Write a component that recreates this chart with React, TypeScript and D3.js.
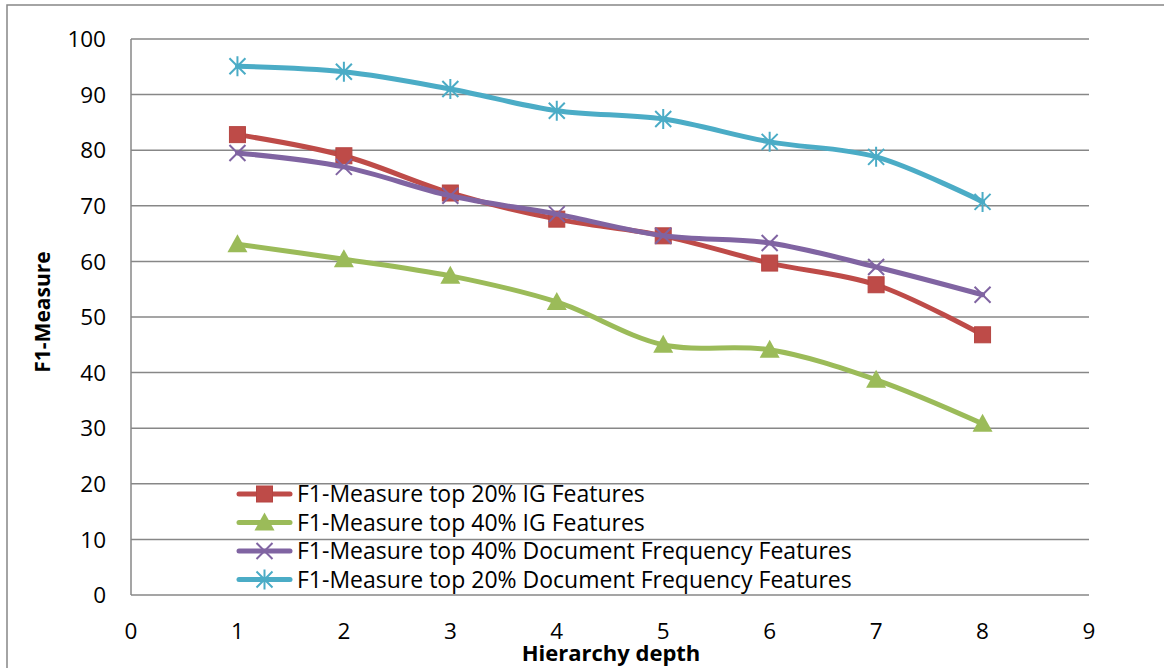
import React, { useEffect, useRef } from "react";
import * as d3 from "d3";

const depths = [1, 2, 3, 4, 5, 6, 7, 8];
const ig20 = [82.8, 79.0, 72.3, 67.6, 64.6, 59.7, 55.8, 46.8];
const ig40 = [63.1, 60.4, 57.4, 52.7, 45.0, 44.1, 38.7, 30.8];
const df40 = [79.5, 77.0, 71.8, 68.5, 64.6, 63.3, 59.0, 54.0];
const df20 = [95.1, 94.1, 91.0, 87.1, 85.6, 81.5, 78.8, 70.7];
const xTicks = [0, 1, 2, 3, 4, 5, 6, 7, 8, 9];
const yTicks = [0, 10, 20, 30, 40, 50, 60, 70, 80, 90, 100];

const series = [
  { name: "F1-Measure top 20% IG Features", values: ig20, color: "#BE4B48", marker: "square" },
  { name: "F1-Measure top 40% IG Features", values: ig40, color: "#9BBB59", marker: "triangle" },
  { name: "F1-Measure top 40% Document Frequency Features", values: df40, color: "#8064A2", marker: "x" },
  { name: "F1-Measure top 20% Document Frequency Features", values: df20, color: "#4BACC6", marker: "star" },
];

const font = "'Open Sans', sans-serif";

function drawMarker(g: any, type: string, color: string, cx: number, cy: number) {
  if (type === "square") {
    g.append("rect").attr("x", cx - 8).attr("y", cy - 8).attr("width", 16).attr("height", 16)
      .attr("fill", color).attr("stroke", "#B54542").attr("stroke-width", 1);
  } else if (type === "triangle") {
    g.append("path").attr("d", `M${cx},${cy - 10}L${cx + 10},${cy + 8}L${cx - 10},${cy + 8}Z`)
      .attr("fill", color);
  } else if (type === "x") {
    g.append("path").attr("d", `M${cx - 8},${cy - 8}L${cx + 8},${cy + 8}M${cx - 8},${cy + 8}L${cx + 8},${cy - 8}`)
      .attr("stroke", color).attr("stroke-width", 2).attr("fill", "none");
  } else {
    g.append("path").attr("d", `M${cx - 8},${cy - 8}L${cx + 8},${cy + 8}M${cx - 8},${cy + 8}L${cx + 8},${cy - 8}M${cx},${cy - 10}L${cx},${cy + 10}`)
      .attr("stroke", color).attr("stroke-width", 2).attr("fill", "none");
  }
}

export default function App() {
  const ref = useRef<SVGSVGElement>(null);

  useEffect(() => {
    const svg = d3.select(ref.current);
    svg.selectAll("*").remove();

    const left = 131, right = 1089, top = 39, bottom = 595;
    const x = d3.scaleLinear().domain([0, 9]).range([left, right]);
    const y = d3.scaleLinear().domain([0, 100]).range([bottom, top]);

    // outer frame
    svg.append("rect").attr("x", 7).attr("y", 5).attr("width", 1170).attr("height", 680)
      .attr("fill", "white").attr("stroke", "#878787").attr("stroke-width", 1.5);

    // gridlines
    svg.append("g").selectAll("line").data(yTicks).join("line")
      .attr("x1", left).attr("x2", right)
      .attr("y1", (d) => y(d)).attr("y2", (d) => y(d))
      .attr("stroke", "#878787").attr("stroke-width", 1.5);
    svg.append("line").attr("x1", left).attr("x2", left).attr("y1", top).attr("y2", bottom)
      .attr("stroke", "#878787").attr("stroke-width", 1.5);

    // tick labels
    svg.append("g").selectAll("text").data(yTicks).join("text")
      .attr("x", 106).attr("y", (d) => y(d)).attr("dy", "0.36em")
      .attr("text-anchor", "end").attr("font-family", font).attr("font-size", 22.5)
      .text((d) => d);
    svg.append("g").selectAll("text").data(xTicks).join("text")
      .attr("x", (d) => x(d)).attr("y", 631).attr("dy", "0.36em")
      .attr("text-anchor", "middle").attr("font-family", font).attr("font-size", 22.5)
      .text((d) => d);

    // axis titles
    svg.append("text").attr("transform", `translate(50,${312}) rotate(-90)`)
      .attr("text-anchor", "middle").attr("font-family", font).attr("font-weight", "bold")
      .attr("font-size", 21).text("F1-Measure");
    svg.append("text").attr("x", 611).attr("y", 661)
      .attr("text-anchor", "middle").attr("font-family", font).attr("font-weight", "bold")
      .attr("font-size", 22).text("Hierarchy depth");

    const line = d3.line<number>()
      .x((_, i) => x(depths[i]))
      .y((d) => y(d))
      .curve(d3.curveCatmullRom.alpha(0.5));

    series.forEach((s) => {
      svg.append("path").attr("d", line(s.values)).attr("fill", "none")
        .attr("stroke", s.color).attr("stroke-width", 5).attr("stroke-linecap", "round");
      const g = svg.append("g");
      s.values.forEach((v, i) => drawMarker(g, s.marker, s.color, x(depths[i]), y(v)));
    });

    // legend
    const lg = svg.append("g");
    series.forEach((s, i) => {
      const ly = 494 + i * 28.5;
      lg.append("line").attr("x1", 239).attr("x2", 290).attr("y1", ly).attr("y2", ly)
        .attr("stroke", s.color).attr("stroke-width", 5).attr("stroke-linecap", "round");
      drawMarker(lg, s.marker, s.color, 264.5, ly);
      lg.append("text").attr("x", 297).attr("y", ly).attr("dy", "0.36em")
        .attr("font-family", font).attr("font-size", 23).text(s.name);
    });
  }, []);

  return (
    <svg ref={ref} width={1164} height={668}
      style={{ position: "absolute", left: 0, top: 0, background: "white" }} />
  );
}
